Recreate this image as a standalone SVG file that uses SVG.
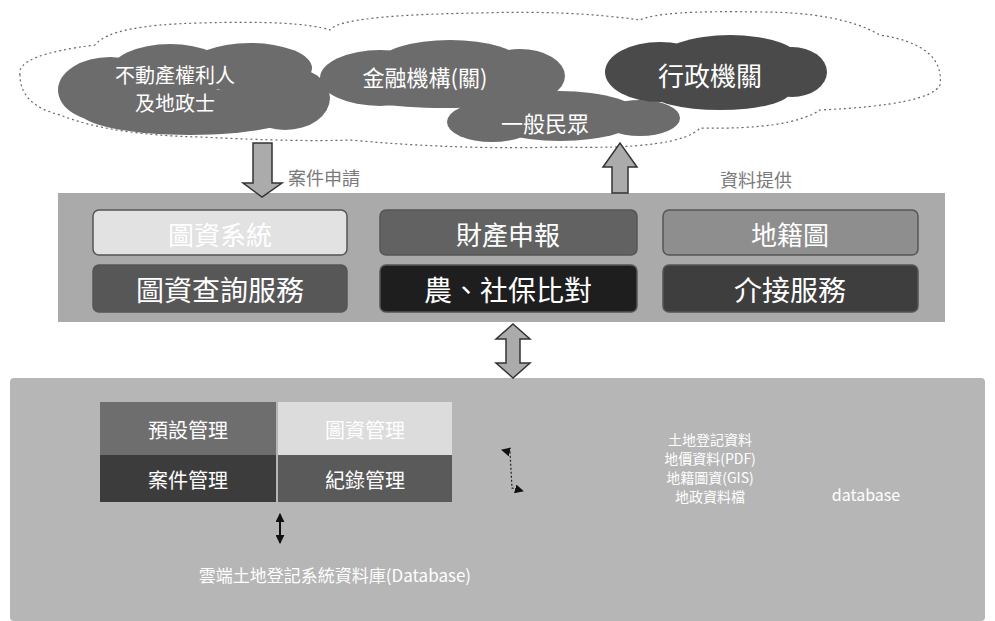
<svg xmlns="http://www.w3.org/2000/svg" width="995" height="621" viewBox="0 0 995 621">
<defs>
<style>
.t{font-family:"Noto Sans CJK TC","Noto Sans CJK SC",sans-serif;fill:#fff;text-anchor:middle;dominant-baseline:central}
.lbl{font-family:"Noto Sans CJK TC","Noto Sans CJK SC",sans-serif;fill:#7a7a7a;font-size:18px;dominant-baseline:central}
.box{stroke:#555;stroke-width:1.5}
.blk{fill:#ababab;stroke:#333;stroke-width:1.5}
</style>
<marker id="ah" viewBox="0 0 10 10" refX="9" refY="5" markerUnits="userSpaceOnUse" markerWidth="9" markerHeight="9" orient="auto-start-reverse"><path d="M0,0 L10,5 L0,10 z" fill="#111"/></marker>
</defs>
<rect width="995" height="621" fill="#fff"/>

<g id="cloud-outline">
<path d="M20,75 Q15,55 95,45 Q110,25 200,23 Q300,20 330,30 Q340,15 480,13 Q570,10 640,20 Q660,10 760,12 Q840,12 880,35 Q945,45 940,85 Q930,105 820,110 Q790,130 700,128 Q680,150 560,147 Q460,150 350,140 Q300,142 200,137 Q110,135 60,115 Q20,105 20,75 Z" fill="#fff" stroke="#666" stroke-width="1.2" stroke-dasharray="2 3"/>
</g>

<g id="cloud-owner">
<g fill="#6c6c6c">
<ellipse cx="110" cy="90" rx="52" ry="33"/><ellipse cx="170" cy="72" rx="60" ry="28"/><ellipse cx="250" cy="68" rx="62" ry="25"/><ellipse cx="285" cy="98" rx="45" ry="32"/><ellipse cx="190" cy="112" rx="110" ry="23"/>
</g>
<text class="t" x="175" y="74" font-size="20">不動產權利人</text>
<text class="t" x="175" y="102" font-size="20">及地政士</text>
</g>

<g id="cloud-finance">
<g fill="#6c6c6c">
<ellipse cx="380" cy="78" rx="60" ry="28"/><ellipse cx="450" cy="62" rx="70" ry="22"/><ellipse cx="520" cy="76" rx="45" ry="27"/><ellipse cx="445" cy="92" rx="100" ry="16"/>
</g>
<text class="t" x="425" y="76" font-size="22">金融機構(關)</text>
</g>

<g id="cloud-public">
<g fill="#6c6c6c">
<ellipse cx="492" cy="122" rx="45" ry="20"/><ellipse cx="560" cy="116" rx="80" ry="25"/><ellipse cx="640" cy="118" rx="40" ry="18"/>
</g>
<text class="t" x="545" y="122" font-size="22">一般民眾</text>
</g>

<g id="cloud-gov">
<g fill="#4a4a4a">
<ellipse cx="660" cy="72" rx="55" ry="30"/><ellipse cx="730" cy="60" rx="70" ry="25"/><ellipse cx="792" cy="72" rx="35" ry="25"/><ellipse cx="720" cy="92" rx="70" ry="18"/>
</g>
<text class="t" x="710" y="74" font-size="26">行政機關</text>
</g>

<g id="panel-services">
<rect x="58" y="193" width="887" height="129" fill="#aaaaaa"/>
</g>
<g id="box-map"><rect class="box" x="93" y="210" width="254" height="45" rx="6" fill="#e2e2e2" stroke="#777"/><text class="t" x="220" y="233" font-size="26">圖資系統</text></g>
<g id="box-asset"><rect class="box" x="380" y="210" width="257" height="45" rx="6" fill="#626262"/><text class="t" x="508" y="233" font-size="26">財產申報</text></g>
<g id="box-cadastral"><rect class="box" x="663" y="210" width="255" height="45" rx="6" fill="#8e8e8e"/><text class="t" x="790" y="233" font-size="26">地籍圖</text></g>
<g id="box-query"><rect class="box" x="93" y="265" width="254" height="47" rx="6" fill="#575757"/><text class="t" x="220" y="289" font-size="28">圖資查詢服務</text></g>
<g id="box-compare"><rect class="box" x="380" y="265" width="257" height="47" rx="6" fill="#1e1e1e"/><text class="t" x="508" y="289" font-size="28">農、社保比對</text></g>
<g id="box-interface"><rect class="box" x="663" y="265" width="255" height="47" rx="6" fill="#3e3e3e"/><text class="t" x="790" y="289" font-size="28">介接服務</text></g>

<g id="panel-backend">
<rect x="10" y="378" width="975" height="243" rx="4" fill="#b6b6b6"/>
</g>
<g id="box-setting"><rect x="100" y="402" width="176" height="53" fill="#6e6e6e"/><text class="t" x="188" y="429" font-size="20">預設管理</text></g>
<g id="box-data"><rect x="278" y="402" width="174" height="53" fill="#dcdcdc"/><text class="t" x="365" y="429" font-size="20">圖資管理</text></g>
<g id="box-case"><rect x="100" y="455" width="176" height="47" fill="#3c3c3c"/><text class="t" x="188" y="479" font-size="20">案件管理</text></g>
<g id="box-record"><rect x="278" y="455" width="174" height="47" fill="#5a5a5a"/><text class="t" x="365" y="479" font-size="20">紀錄管理</text></g>

<g id="db-text">
<text class="t" x="710" y="439" font-size="14">土地登記資料</text>
<text class="t" x="710" y="458" font-size="14">地價資料(PDF)</text>
<text class="t" x="710" y="477" font-size="14">地籍圖資(GIS)</text>
<text class="t" x="710" y="496" font-size="14">地政資料檔</text>
<text class="t" x="866" y="494" font-size="16">database</text>
<text class="t" x="335" y="574" font-size="17" fill="#eeeeee">雲端土地登記系統資料庫(Database)</text>
</g>

<g id="connectors">
<path class="blk" d="M253,143 H272 V183 H282 L262,197 L243,183 H253 Z"/>
<text class="lbl" x="288" y="177">案件申請</text>
<path class="blk" d="M612,193 V167 H603 L620,143 L637,167 H628 V193 Z"/>
<text class="lbl" x="720" y="179" font-size="19">資料提供</text>
<path class="blk" d="M513,324 L530,339 H520 V363 H530 L513,378 L496,363 H506 V339 H496 Z"/>
<line x1="280" y1="514" x2="280" y2="543" stroke="#111" stroke-width="2" marker-start="url(#ah)" marker-end="url(#ah)"/>
<path d="M502,450 L510,452 L512,488 L523,491" fill="none" stroke="#222" stroke-width="1.2" stroke-dasharray="2 2" marker-start="url(#ah)" marker-end="url(#ah)"/>
</g>
</svg>
